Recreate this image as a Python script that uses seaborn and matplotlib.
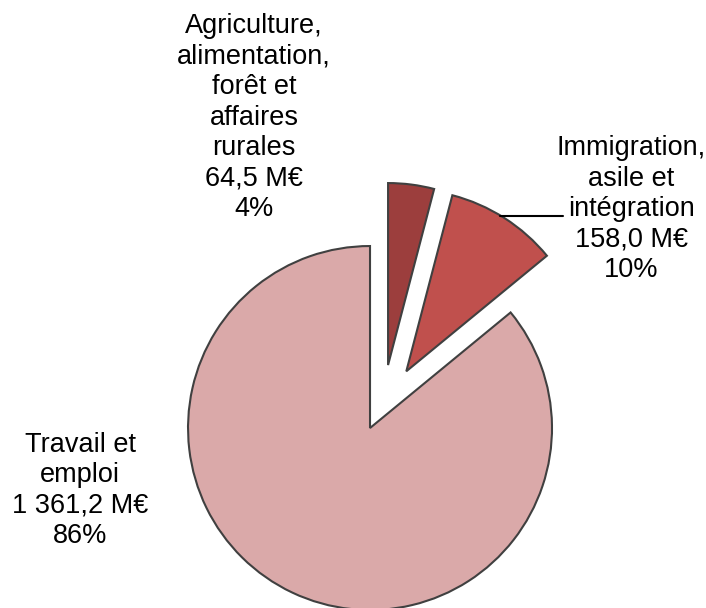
import matplotlib
matplotlib.use("Agg")
import math
import matplotlib.pyplot as plt
import seaborn as sns

categories = ["Agriculture,\nalimentation,\nforêt et\naffaires\nrurales",
              "Immigration,\nasile et\nintégration",
              "Travail et\nemploi"]
values = [64.5, 158.0, 1361.2]
value_labels = ["64,5 M€", "158,0 M€", "1 361,2 M€"]
colors = ["#9C3E3D", "#C0504D", "#DAA9A9"]
explode = [0.36, 0.37, 0.0]
# direction (degrees) of the pull-out for each slice; None = along mid-angle
explode_dir = [74.0, None, None]

sns.set_theme(style="white")
plt.rcParams['font.family'] = ['Liberation Sans', 'DejaVu Sans']

fig = plt.figure(figsize=(7.06, 6.08), dpi=100)
ax = fig.add_axes([0, 0, 1, 1])
ax.set_axis_off()

total = sum(values)
wedges, _ = ax.pie(values, colors=colors, explode=explode, startangle=90,
                   counterclock=False, radius=1.0,
                   wedgeprops=dict(edgecolor="#404040", linewidth=1.5))
for w, d, e in zip(wedges, explode_dir, explode):
    if d is not None:
        w.set_center((e * math.cos(math.radians(d)), e * math.sin(math.radians(d))))

ax.set_xlim(-2.033, 1.846)
ax.set_ylim(-0.989, 2.352)
ax.set_aspect("equal")

label_pos = [(-0.637, 1.706), (1.437, 1.203), (-1.593, -0.343)]
for cat, vl, v, (x, y) in zip(categories, value_labels, values, label_pos):
    pct = round(100 * v / total)
    ax.text(x, y, f"{cat}\n{vl}\n{pct}%", ha="center", va="center",
            fontsize=19.5, color="#000000", linespacing=1.22)

# leader line for Immigration label
ax.plot([0.714, 1.06], [1.165, 1.165], color="black", linewidth=1.5)

fig.savefig("out.png", dpi=100, facecolor="white")
